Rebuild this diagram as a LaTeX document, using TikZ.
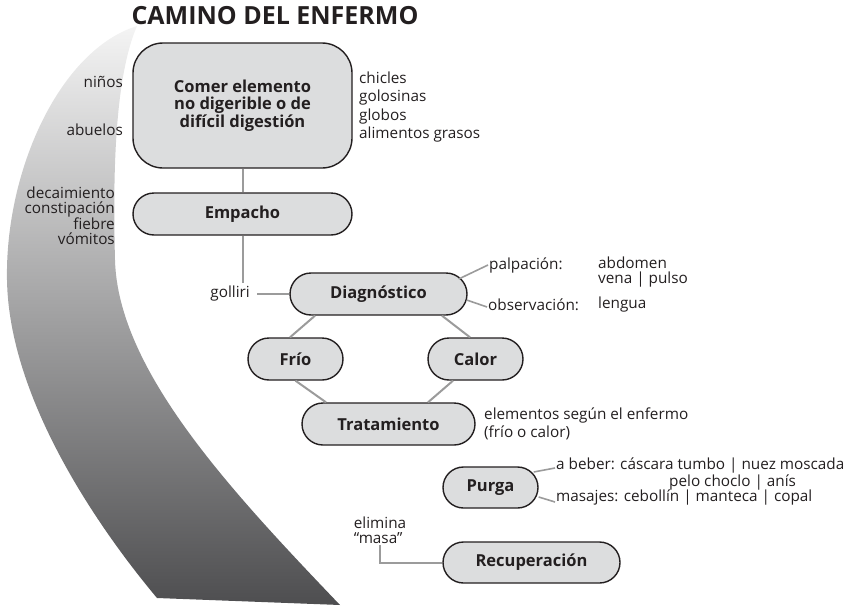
\documentclass[tikz,border=0pt]{standalone}
\usepackage{fontspec}
\setmainfont{Open Sans}
\usepackage{tikz}
\usetikzlibrary{calc}
\definecolor{BoxGray}{HTML}{DCDDDE}
\definecolor{LinkGray}{HTML}{9B9B9B}
\definecolor{InkDark}{HTML}{231F20}
\definecolor{PathLight}{HTML}{F4F4F4}
\definecolor{PathMid}{HTML}{B4B4B5}
\definecolor{PathDark}{HTML}{4E4E50}

\tikzset{
  stepbox/.style={draw=InkDark, fill=BoxGray, line width=1.4pt, rounded corners=21pt, minimum height=42pt, text=InkDark, font=\bfseries\fontsize{16.5}{17.5}\selectfont},
  note/.style={text=InkDark, inner sep=1pt, font=\fontsize{15.3}{17}\selectfont},
  link/.style={draw=LinkGray, line width=2pt}
}

\begin{document}
\begin{tikzpicture}[x=1pt, y=-1pt]
    \useasboundingbox (0,0) rectangle (863,608);
    % the sick person's path
    \shade[top color=PathLight, middle color=PathMid, bottom color=PathDark] (137,26) .. controls (60,50) and (5,170) .. (7,280) .. controls (9,400) and (100,530) .. (157,598) -- (340,605) .. controls (230,490) and (118,370) .. (115,260) .. controls (112,150) and (118,70) .. (137,26) -- cycle;

    \node[text=InkDark, font=\bfseries\fontsize{25}{26}\selectfont, anchor=base] (title) at (275,24) {CAMINO DEL ENFERMO};

    % boxes
    \node[stepbox, rounded corners=30pt, minimum width=219pt, minimum height=125pt, align=center] (comer) at (242.5,105.5) {Comer elemento\\no digerible o de\\difícil digestión};
    \node[stepbox, minimum width=219pt] (empacho) at (242.5,214) {Empacho};
    \node[stepbox, minimum width=177pt] (diag) at (378.5,294) {Diagnóstico};
    \node[stepbox, minimum width=95pt] (frio) at (295.5,359) {Frío};
    \node[stepbox, minimum width=95pt] (calor) at (475.5,359) {Calor};
    \node[stepbox, minimum width=173pt] (trat) at (388.5,424) {Tratamiento};
    \node[stepbox, minimum width=95pt, minimum height=41pt, rounded corners=20.5pt] (purga) at (490.5,487.5) {Purga};
    \node[stepbox, minimum width=177pt, minimum height=41pt, rounded corners=20.5pt] (recup) at (531.5,562.5) {Recuperación};

    % side notes
    \node[note, anchor=east] (ninos) at (124,82) {niños};
    \node[note, anchor=east] (abuelos) at (124,130) {abuelos};
    \node[note, anchor=west, align=left, font=\fontsize{15.3}{18.3}\selectfont] (dulces) at (358,107) {chicles\\golosinas\\globos\\alimentos grasos};
    \node[note, anchor=east, align=right, font=\fontsize{15.3}{15.5}\selectfont] (sintomas) at (116,216) {decaimiento\\constipación\\fiebre\\vómitos};
    \node[note, anchor=east] (golliri) at (251,294) {golliri};
    \node[note, anchor=west] (palp) at (488,265) {palpación:};
    \node[note, anchor=west, align=left, font=\fontsize{15.3}{15}\selectfont] (abdomen) at (597,272.5) {abdomen\\vena | pulso};
    \node[note, anchor=west] (obs) at (487,305) {observación:};
    \node[note, anchor=west] (lengua) at (597,305) {lengua};
    \node[note, anchor=west, align=left, font=\fontsize{15.3}{18}\selectfont] (segun) at (483,424) {elementos según el enfermo\\(frío o calor)};
    \node[note, anchor=west] (beber) at (555,465) {a beber: cáscara tumbo | nuez moscada};
    \node[note, anchor=west] (pelo) at (668,482) {pelo choclo | anís};
    \node[note, anchor=west] (masajes) at (555,497) {masajes: cebollín | manteca | copal};
    \node[note, align=left, font=\fontsize{15.3}{15}\selectfont] (elimina) at (380,530.5) {elimina\\“masa”};

    \coordinate (tope) at (242.5,283);

    % connectors
    \draw[link] (comer) -- (empacho);
    \draw[link] (empacho) -- (tope);
    \draw[link, shorten <=6pt] (golliri.east) -- (golliri.east -| diag.west);
    \draw[link] ($(diag.south)+(-63.5,0)$) -- ($(frio.north)+(-5.5,0)$);
    \draw[link] ($(diag.south)+(63.5,0)$) -- ($(calor.north)+(-5.5,0)$);
    \draw[link] (frio.south) -- ($(trat.north)+(-62.5,0)$);
    \draw[link] ($(calor.south)+(-22.5,0)$) -- ($(trat.north)+(39.5,0)$);
    \draw[link, line width=1.6pt] ($(diag.east)+(-9,-15)$) -- (palp.west);
    \draw[link, line width=1.6pt] ($(diag.east)+(-1,6)$) -- ($(obs.west)+(0,2)$);
    \draw[link, line width=1.6pt] ($(purga.east)+(-5,-15.5)$) -- ($(beber.west)+(0,3)$);
    \draw[link, line width=1.6pt] ($(purga.east)+(0,9.5)$) -- ($(masajes.west)+(0,5)$);
    \draw[link] (elimina.south) |- (recup.west);
\end{tikzpicture}
\end{document}
